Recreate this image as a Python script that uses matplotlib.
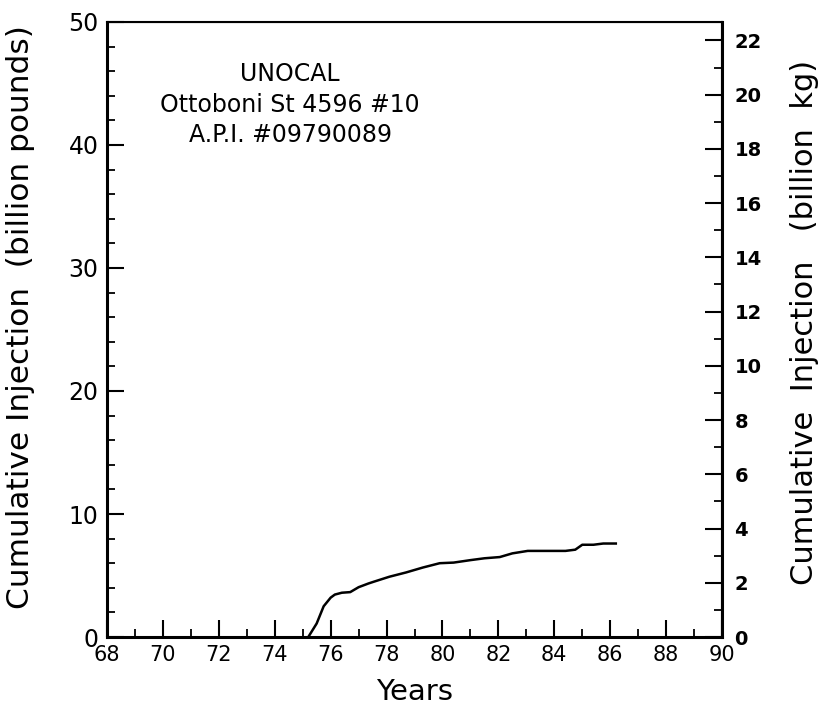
import matplotlib
matplotlib.use("Agg")
import matplotlib.pyplot as plt
from matplotlib.ticker import MultipleLocator

# cumulative injection, billion pounds
years = [75.2, 75.5, 75.75, 76.0, 76.15, 76.4, 76.7, 77.0, 77.35, 77.55, 78.1, 78.7,
         79.3, 79.9, 80.4, 81.0, 81.5, 82.05, 82.5, 83.05, 83.7, 84.4, 84.75, 85.0,
         85.4, 85.75, 86.2]
injection = [0, 1.1, 2.5, 3.2, 3.45, 3.6, 3.65, 4.05, 4.35, 4.5, 4.9, 5.25,
             5.65, 6.0, 6.05, 6.25, 6.4, 6.5, 6.8, 7.0, 7.0, 7.0, 7.1, 7.5,
             7.5, 7.6, 7.6]

lb_to_kg = 0.45359
x_ticks = list(range(68, 91, 2))
title_lines = ["UNOCAL", "Ottoboni St 4596 #10", "A.P.I. #09790089"]

fig = plt.figure(figsize=(8.25, 7.18), dpi=100)
ax = fig.add_axes([0.1297, 0.1128, 0.7455, 0.8566])

ax.plot(years, injection, color="black", lw=1.8)

ax.set_xlim(68, 90)
ax.set_ylim(0, 50)
ax.set_xticks(x_ticks)
ax.xaxis.set_minor_locator(MultipleLocator(1))
ax.yaxis.set_major_locator(MultipleLocator(10))
ax.yaxis.set_minor_locator(MultipleLocator(2))

for side in ["left", "bottom"]:
    ax.spines[side].set_linewidth(2.2)
for side in ["top", "right"]:
    ax.spines[side].set_linewidth(1.5)

ax.tick_params(which="major", direction="in", length=12, width=1.5,
               labelsize=15, pad=6)
ax.tick_params(which="minor", direction="in", length=6, width=1.3)
ax.tick_params(axis="y", which="major", labelsize=17)

ax.set_xlabel("Years", fontsize=21)
ax.xaxis.set_label_coords(0.5, -0.066)
ax.set_ylabel("Cumulative Injection  (billion pounds)", fontsize=22.5)
ax.yaxis.set_label_coords(-0.117, 0.52)

ax2 = ax.twinx()
ax2.set_ylim(0, 50 * lb_to_kg)
ax2.yaxis.set_major_locator(MultipleLocator(2))
ax2.yaxis.set_minor_locator(MultipleLocator(1))
ax2.tick_params(which="major", direction="in", length=12, width=1.5,
                labelsize=14, pad=9)
ax2.tick_params(which="minor", direction="in", length=6, width=1.3)
for lab in ax2.get_yticklabels():
    lab.set_fontweight("bold")
ax2.spines["right"].set_linewidth(2.2)
ax2.set_ylabel("Cumulative  Injection   (billion  kg)", fontsize=22)
ax2.yaxis.set_label_coords(1.11, 0.512)

ax.text(0.298, 0.935, "\n".join(title_lines), transform=ax.transAxes,
        ha="center", va="top", fontsize=17, linespacing=1.35)

fig.savefig("out.png", dpi=100)
